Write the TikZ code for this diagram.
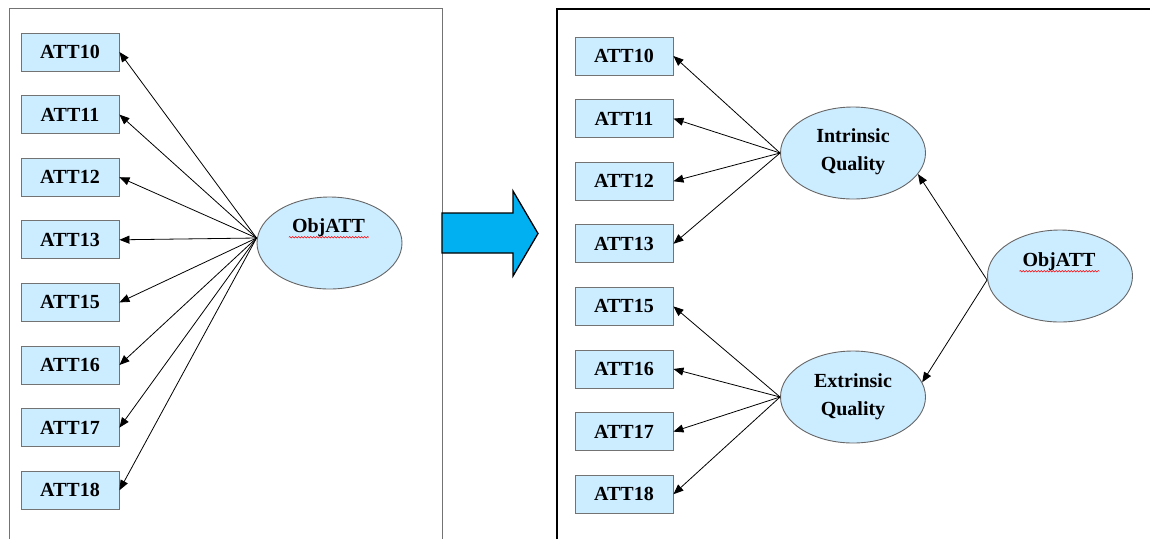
\documentclass[tikz,border=0pt]{standalone}
\usepackage{fontspec}
\setmainfont{Liberation Serif}
\usepackage{tikz}
\usetikzlibrary{shapes.geometric, arrows, arrows.meta, positioning, decorations.pathmorphing}
\definecolor{boxfill}{RGB}{204,236,255}
\definecolor{bigblue}{RGB}{0,176,240}
\tikzstyle{item} = [rectangle, minimum width=98pt, minimum height=38pt, text centered, draw=black!55, line width=0.9pt, fill=boxfill, font=\fontsize{20}{22}\selectfont\bfseries]
\tikzstyle{latent} = [ellipse, minimum width=145pt, minimum height=92pt, draw=black!60, line width=0.9pt, fill=boxfill]
\tikzstyle{label} = [font=\fontsize{20}{28}\selectfont\bfseries, align=center, inner sep=1pt]
\tikzstyle{arrow} = [line width=0.8pt, -{Triangle[length=10pt, width=8pt]}]
\tikzstyle{squiggle} = [draw=red, line width=0.5pt, decorate, decoration={snake, segment length=3pt, amplitude=0.8pt}]

\begin{document}
\begin{tikzpicture}[x=1pt, y=-1pt, node distance=62.6pt]
    \useasboundingbox (0,0) rectangle (1150,539);
    % frames
    \draw [black!55, line width=1pt] (9,539) -- (9,8) -- (442,8) -- (442,539);
    \draw [black, line width=1.3pt] (557,539) -- (557,9) -- (1150,9);

    % left model
    \node (l10) [item] at (70,52) {ATT10};
    \node (l11) [item, below of=l10] {ATT11};
    \node (l12) [item, below of=l11] {ATT12};
    \node (l13) [item, below of=l12] {ATT13};
    \node (l15) [item, below of=l13] {ATT15};
    \node (l16) [item, below of=l15] {ATT16};
    \node (l17) [item, below of=l16] {ATT17};
    \node (l18) [item, below of=l17] {ATT18};
    \node (lobj) [latent] at (329.5,243) {};
    \node (lobjtxt) [label] at (328.5,228) {ObjATT};
    \draw [squiggle] (lobjtxt.south west) ++(-2,-1) -- ++(80,0);
    \coordinate (lsrc) at ([yshift=5pt]lobj.west);
    \foreach \i in {10,11,12,13,15,16,17,18}
        \draw [arrow] (lsrc) -- (l\i.east);

    % big arrow
    \draw [fill=bigblue, line width=1.3pt, line join=miter]
        (442,213) -- (513,213) -- (513,191) -- (538,233.5) -- (513,276) -- (513,253) -- (442,253) -- cycle;

    % right model
    \node (r10) [item] at (624,56) {ATT10};
    \node (r11) [item, below of=r10] {ATT11};
    \node (r12) [item, below of=r11] {ATT12};
    \node (r13) [item, below of=r12] {ATT13};
    \node (r15) [item, below of=r13] {ATT15};
    \node (r16) [item, below of=r15] {ATT16};
    \node (r17) [item, below of=r16] {ATT17};
    \node (r18) [item, below of=r17] {ATT18};
    \node (intr) [latent] at (853,153) {};
    \node [label] at (853,152) {Intrinsic\\Quality};
    \node (extr) [latent] at (853,397) {};
    \node [label] at (853,397) {Extrinsic\\Quality};
    \node (robj) [latent] at (1060,276) {};
    \node (robjtxt) [label] at (1059,262) {ObjATT};
    \draw [squiggle] (robjtxt.south west) ++(-2,-1) -- ++(80,0);

    \coordinate (rsrc) at ([yshift=-4pt]robj.west);
    \foreach \i in {10,11,12,13}
        \draw [arrow] (intr.west) -- (r\i.east);
    \foreach \i in {15,16,17,18}
        \draw [arrow] (extr.west) -- (r\i.east);
    \draw [arrow] (rsrc) -- (intr.-18);
    \draw [arrow] (rsrc) -- (extr.12);
\end{tikzpicture}
\end{document}
